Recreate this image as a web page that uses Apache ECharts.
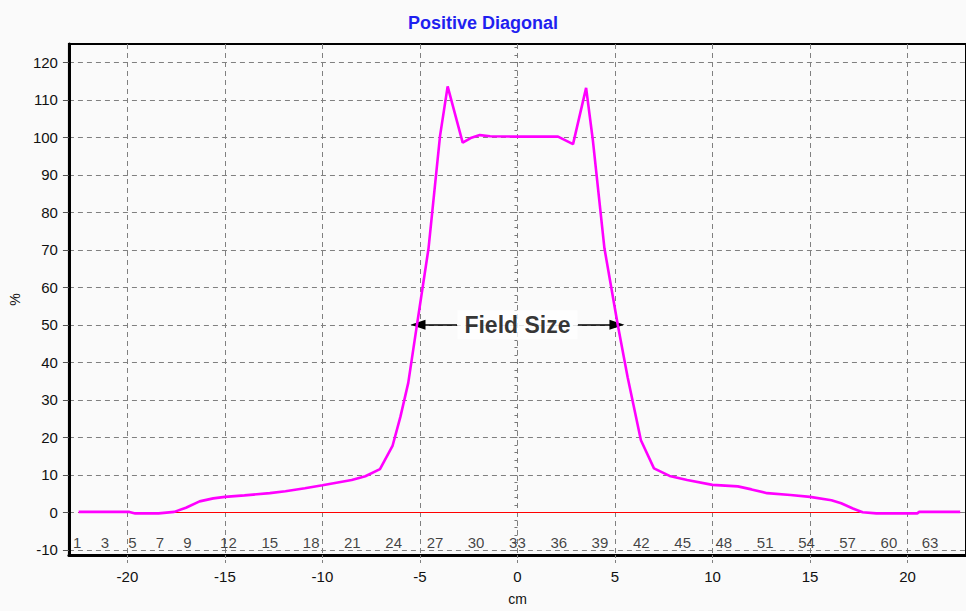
<!DOCTYPE html>
<html>
<head>
<meta charset="utf-8">
<script src="https://cdn.jsdelivr.net/npm/echarts@6/dist/echarts.min.js"></script>
<style>
html,body{margin:0;padding:0;background:#fafafa;}
#chart{width:966px;height:611px;}
</style>
</head>
<body>
<div id="chart"></div>
<script>
// ---- data ----
const titleText = 'Positive Diagonal';
const positionsCm = [-22.5, -19.9, -19.6, -18.4, -17.6, -17.0, -16.3, -15.6, -15.0, -14.0, -12.7, -11.9, -10.9, -10.0, -8.5, -7.8, -7.05, -6.4, -6.0, -5.6, -5.15, -4.56, -3.97, -3.58, -2.81, -2.4, -1.93, -1.4, 0, 2.08, 2.85, 3.52, 3.86, 4.46, 5.14, 5.65, 6.33, 7.0, 7.8, 8.7, 10.0, 11.3, 12.0, 12.8, 14.0, 15.0, 16.1, 16.6, 17.2, 17.7, 18.4, 20.5, 20.6, 22.7];
const dosePercent = [0.1, 0.1, -0.3, -0.3, 0.1, 1.2, 2.9, 3.7, 4.1, 4.5, 5.1, 5.6, 6.4, 7.2, 8.6, 9.6, 11.5, 17.8, 25.5, 34.5, 50.1, 70.4, 100.4, 113.6, 98.6, 99.8, 100.6, 100.3, 100.2, 100.2, 98.2, 113.2, 99.5, 70.4, 50.1, 36.0, 19.2, 11.7, 9.7, 8.6, 7.3, 6.9, 6.1, 5.1, 4.6, 4.1, 3.2, 2.4, 1.0, 0.0, -0.3, -0.3, 0.1, 0.1];
const pointIndexLabels = ['1','3','5','7','9','12','15','18','21','24','27','30','33','36','39','42','45','48','51','54','57','60','63'];
const pointIndexCm = [-22.58, -21.16, -19.75, -18.34, -16.93, -14.82, -12.70, -10.58, -8.47, -6.35, -4.23, -2.12, 0, 2.12, 4.23, 6.35, 8.47, 10.58, 12.70, 14.82, 16.93, 19.05, 21.16];
const xTicks = [-20, -15, -10, -5, 0, 5, 10, 15, 20];
const yTicks = [-10, 0, 10, 20, 30, 40, 50, 60, 70, 80, 90, 100, 110, 120];
const yMinorTicks = [-10, -8, -6, -4, -2, 0, 2, 4, 6, 8, 10, 12, 14, 16, 18, 20, 22, 24, 26, 28, 30, 32, 34, 36, 38, 40, 42, 44, 46, 48, 50, 52, 54, 56, 58, 60, 62, 64, 66, 68, 70, 72, 74, 76, 78, 80, 82, 84, 86, 88, 90, 92, 94, 96, 98, 100, 102, 104, 106, 108, 110, 112, 114, 116, 118, 120, 122, 124];
const fieldSizeLabel = 'Field Size';
const fieldEdgesCm = [-5.1, 5.1];
const fieldLevel = 50;
const fieldTextHalfWidthCm = 3.1;
const baselineValue = 0;

// ---- chart ----
const chart = echarts.init(document.getElementById('chart'), null, {renderer: 'svg'});
const font = "'Liberation Sans', Arial, sans-serif";
const curve = positionsCm.map((x, i) => [x, dosePercent[i]]);
const idxData = pointIndexCm.map((x, i) => ({value: [x, -10], label: {formatter: pointIndexLabels[i]}}));

const option = {
  backgroundColor: '#fafafa',
  animation: false,
  title: {
    text: titleText,
    left: 'center',
    top: 9,
    textStyle: {color: '#1f1ff0', fontSize: 18, fontWeight: 'bold', fontFamily: font}
  },
  grid: {left: 65, right: 0, top: 44, bottom: 52, show: true, borderColor: '#000', borderWidth: 2, backgroundColor: 'transparent'},
  xAxis: {
    type: 'value', min: -23, max: 23,
    name: 'cm', nameLocation: 'middle', nameGap: 37,
    nameTextStyle: {color: '#111', fontSize: 14, fontFamily: font},
    axisLine: {show: true, onZero: false, lineStyle: {color: '#000', width: 3}},
    axisTick: {show: true, customValues: xTicks, length: 8, lineStyle: {color: '#808080', type: [3, 2]}},
    axisLabel: {customValues: xTicks, margin: 14, color: '#111', fontSize: 15, fontFamily: font},
    splitLine: {show: true, lineStyle: {color: '#808080', type: [5, 4], width: 1}}
  },
  yAxis: [{
    type: 'value', min: -11.4, max: 124.9,
    name: '%', nameLocation: 'middle', nameGap: 46,
    nameTextStyle: {color: '#111', fontSize: 14, fontFamily: font},
    axisLine: {show: true, onZero: false, lineStyle: {color: '#000', width: 3}},
    axisTick: {show: true, customValues: yTicks, length: 6, lineStyle: {color: '#555'}},
    axisLabel: {customValues: yTicks, margin: 11, color: '#111', fontSize: 15, fontFamily: font},
    splitLine: {show: true, lineStyle: {color: '#808080', type: [5, 4], width: 1}}
  }, {
    type: 'value', min: -11.4, max: 124.9, position: 'left',
    axisLine: {show: false},
    axisTick: {show: true, customValues: yMinorTicks, length: 3, lineStyle: {color: '#777'}},
    axisLabel: {show: false},
    splitLine: {show: false}
  }],
  series: [{
    type: 'line',
    data: curve,
    showSymbol: false,
    symbol: 'none',
    z: 5,
    lineStyle: {color: '#ff00ff', width: 2.6},
    markLine: {
      silent: true,
      symbol: ['none', 'none'],
      label: {show: false},
      lineStyle: {color: '#ff0000', width: 1.2, type: 'solid'},
      data: [[{coord: [positionsCm[0], baselineValue]}, {coord: [positionsCm[positionsCm.length - 1], baselineValue]}]]
    }
  }, {
    type: 'line',
    data: [],
    z: 6,
    markLine: {
      silent: true,
      symbol: ['none', 'triangle'],
      symbolSize: [10, 15],
      label: {show: false},
      lineStyle: {color: '#000', width: 1.5, type: 'solid'},
      data: [
        [{coord: [-fieldTextHalfWidthCm, fieldLevel]}, {coord: [fieldEdgesCm[0], fieldLevel]}],
        [{coord: [fieldTextHalfWidthCm, fieldLevel]}, {coord: [fieldEdgesCm[1], fieldLevel]}]
      ]
    }
  }, {
    type: 'scatter',
    z: 7,
    symbolSize: 0,
    silent: true,
    data: [[0, fieldLevel]],
    label: {
      show: true, position: 'inside', formatter: fieldSizeLabel,
      color: '#000', fontSize: 23, fontWeight: 'bold', fontFamily: font,
      backgroundColor: '#ffffff', padding: [3, 7, 3, 7]
    }
  }, {
    type: 'scatter',
    z: 4,
    symbolSize: 0,
    silent: true,
    data: idxData,
    label: {show: true, position: 'inside', offset: [0, -7], color: '#111', fontSize: 15, fontFamily: font}
  }]
};
chart.setOption(option);
</script>
</body>
</html>
